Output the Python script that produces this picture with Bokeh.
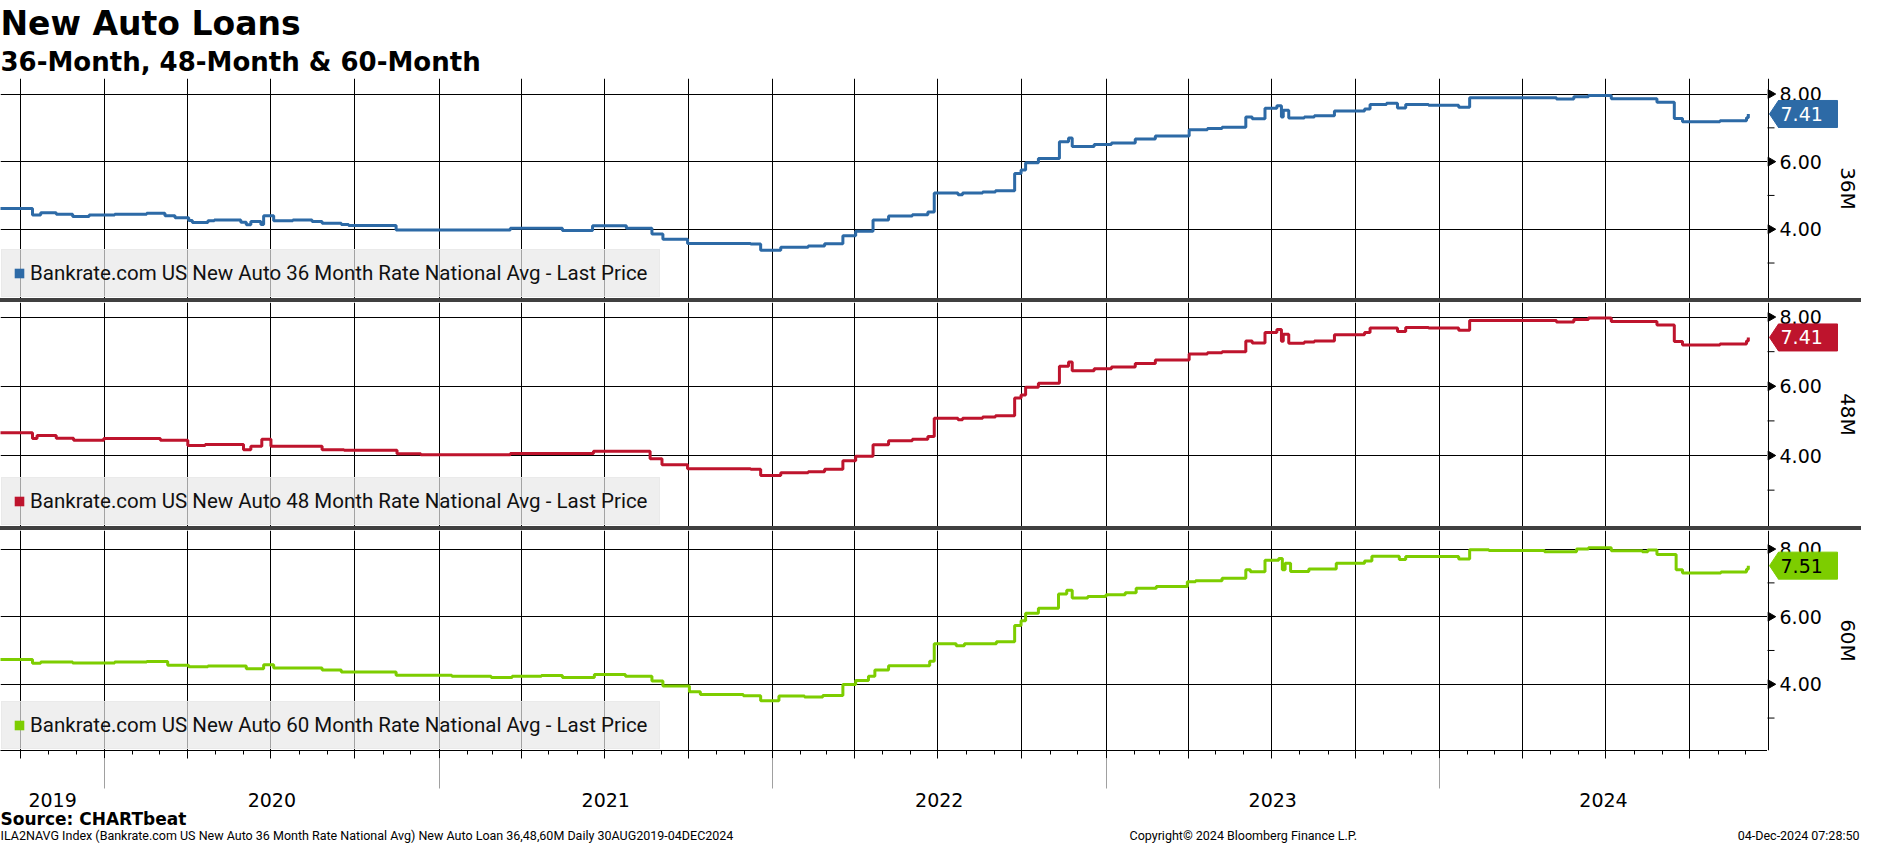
import math
import pandas as pd
from bokeh.plotting import figure
from bokeh.models import (FixedTicker, DatetimeAxis, DatetimeTickFormatter,
                          Legend, LegendItem, Label, Title, ColumnDataSource, Range1d)
from bokeh.layouts import column, row
from bokeh.embed import file_html
from bokeh.resources import INLINE
from bokeh.core.properties import value

# ---------------- data ----------------
dates_36 = ["2019-08-30", "2019-10-14", "2019-10-23", "2019-11-09", "2019-11-27", "2019-12-15",
            "2020-01-12", "2020-02-16", "2020-03-07", "2020-03-18", "2020-04-02", "2020-04-06",
            "2020-04-23", "2020-04-30", "2020-05-29", "2020-06-04", "2020-06-09", "2020-06-20",
            "2020-06-23", "2020-07-04", "2020-07-25", "2020-08-15", "2020-08-26", "2020-09-16",
            "2020-09-24", "2020-11-15", "2021-03-20", "2021-05-16", "2021-06-18", "2021-07-25",
            "2021-08-22", "2021-09-03", "2021-09-30", "2021-12-08", "2021-12-19", "2022-01-10",
            "2022-02-09", "2022-02-27", "2022-03-19", "2022-04-02", "2022-04-21", "2022-05-08",
            "2022-06-03", "2022-06-20", "2022-06-27", "2022-07-23", "2022-07-28", "2022-08-19",
            "2022-09-02", "2022-09-23", "2022-09-30", "2022-10-05", "2022-10-19", "2022-11-11",
            "2022-11-21", "2022-11-25", "2022-12-19", "2023-01-07", "2023-02-02", "2023-02-24",
            "2023-04-02", "2023-04-22", "2023-05-08", "2023-06-03", "2023-06-10", "2023-06-24",
            "2023-07-07", "2023-07-12", "2023-07-14", "2023-07-20", "2023-08-06", "2023-08-17",
            "2023-09-08", "2023-10-11", "2023-10-17", "2023-11-04", "2023-11-16", "2023-11-25",
            "2023-12-20", "2024-01-22", "2024-02-03", "2024-05-08", "2024-05-27", "2024-06-12",
            "2024-07-07", "2024-08-26", "2024-09-14", "2024-09-23", "2024-11-03", "2024-12-02",
            "2024-12-04"]
rates_36 = [4.61, 4.42, 4.49, 4.44, 4.38, 4.42,
            4.44, 4.47, 4.40, 4.34, 4.26, 4.20,
            4.25, 4.27, 4.21, 4.13, 4.23, 4.14,
            4.40, 4.25, 4.27, 4.23, 4.18, 4.14,
            4.11, 3.98, 4.03, 3.96, 4.10, 4.03,
            3.86, 3.70, 3.58, 3.56, 3.38, 3.47,
            3.50, 3.57, 3.81, 3.94, 4.27, 4.39,
            4.43, 4.51, 5.07, 5.02, 5.07, 5.10,
            5.14, 5.65, 5.75, 5.97, 6.09, 6.59,
            6.70, 6.45, 6.51, 6.55, 6.67, 6.76,
            6.94, 6.98, 7.02, 7.32, 7.27, 7.58,
            7.65, 7.32, 7.52, 7.29, 7.32, 7.36,
            7.50, 7.56, 7.69, 7.73, 7.59, 7.69,
            7.67, 7.61, 7.89, 7.85, 7.92, 7.96,
            7.86, 7.76, 7.28, 7.18, 7.21, 7.30,
            7.41]

dates_48 = ["2019-08-30", "2019-10-14", "2019-10-19", "2019-11-09", "2019-11-28", "2019-12-31",
            "2020-03-02", "2020-04-01", "2020-04-20", "2020-06-01", "2020-06-09", "2020-06-21",
            "2020-07-01", "2020-08-26", "2020-09-19", "2020-11-16", "2020-12-12", "2021-03-20",
            "2021-06-19", "2021-08-20", "2021-09-02", "2021-09-30", "2021-12-08", "2021-12-19",
            "2022-01-10", "2022-02-09", "2022-02-27", "2022-03-19", "2022-04-02", "2022-04-21",
            "2022-05-08", "2022-06-03", "2022-06-20", "2022-06-27", "2022-07-23", "2022-07-28",
            "2022-08-19", "2022-09-02", "2022-09-23", "2022-09-30", "2022-10-05", "2022-10-19",
            "2022-11-11", "2022-11-21", "2022-11-25", "2022-12-19", "2023-01-07", "2023-02-02",
            "2023-02-24", "2023-04-02", "2023-04-22", "2023-05-08", "2023-06-03", "2023-06-10",
            "2023-06-24", "2023-07-07", "2023-07-12", "2023-07-14", "2023-07-20", "2023-08-06",
            "2023-08-17", "2023-09-08", "2023-10-11", "2023-10-17", "2023-11-04", "2023-11-16",
            "2023-11-25", "2023-12-20", "2024-01-22", "2024-02-03", "2024-05-08", "2024-05-27",
            "2024-06-12", "2024-07-07", "2024-08-26", "2024-09-14", "2024-09-23", "2024-11-03",
            "2024-12-02", "2024-12-04"]
rates_48 = [4.66, 4.49, 4.58, 4.50, 4.44, 4.49,
            4.44, 4.29, 4.32, 4.17, 4.27, 4.47,
            4.27, 4.17, 4.15, 4.05, 4.02, 4.06,
            4.12, 3.91, 3.73, 3.62, 3.60, 3.42,
            3.50, 3.53, 3.60, 3.85, 3.98, 4.31,
            4.43, 4.47, 4.55, 5.08, 5.03, 5.08,
            5.11, 5.15, 5.66, 5.75, 5.97, 6.09,
            6.58, 6.70, 6.45, 6.51, 6.56, 6.66,
            6.76, 6.93, 6.97, 7.00, 7.31, 7.25,
            7.55, 7.64, 7.30, 7.50, 7.24, 7.28,
            7.31, 7.49, 7.55, 7.68, 7.68, 7.58,
            7.70, 7.68, 7.62, 7.90, 7.86, 7.93,
            7.97, 7.87, 7.77, 7.29, 7.19, 7.22,
            7.31, 7.41]

dates_60 = ["2019-08-30", "2019-10-14", "2019-10-23", "2019-11-27", "2020-01-12", "2020-02-16",
            "2020-03-10", "2020-04-02", "2020-04-23", "2020-06-04", "2020-06-23", "2020-07-04",
            "2020-08-26", "2020-09-16", "2020-11-15", "2021-01-15", "2021-02-27", "2021-03-22",
            "2021-04-23", "2021-05-16", "2021-06-20", "2021-07-24", "2021-08-22", "2021-09-03",
            "2021-10-02", "2021-10-14", "2021-11-30", "2021-12-19", "2022-01-08", "2022-02-05",
            "2022-02-25", "2022-03-19", "2022-04-02", "2022-04-16", "2022-04-23", "2022-05-08",
            "2022-06-22", "2022-06-27", "2022-07-21", "2022-07-30", "2022-09-03", "2022-09-23",
            "2022-09-30", "2022-10-05", "2022-10-19", "2022-11-10", "2022-11-19", "2022-11-25",
            "2022-12-12", "2023-01-01", "2023-01-22", "2023-02-03", "2023-02-25", "2023-03-31",
            "2023-04-09", "2023-05-08", "2023-06-03", "2023-06-08", "2023-06-24", "2023-07-09",
            "2023-07-13", "2023-07-16", "2023-07-22", "2023-08-11", "2023-09-10", "2023-10-11",
            "2023-10-19", "2023-11-18", "2023-11-25", "2024-01-22", "2024-02-03", "2024-02-24",
            "2024-04-25", "2024-05-30", "2024-06-12", "2024-07-07", "2024-08-10", "2024-08-16",
            "2024-08-26", "2024-09-16", "2024-09-23", "2024-11-04", "2024-12-02", "2024-12-04"]
rates_60 = [4.73, 4.62, 4.66, 4.63, 4.66, 4.67,
            4.56, 4.52, 4.54, 4.46, 4.58, 4.48,
            4.42, 4.36, 4.27, 4.24, 4.20, 4.24,
            4.26, 4.20, 4.29, 4.24, 4.10, 3.95,
            3.78, 3.70, 3.66, 3.51, 3.65, 3.62,
            3.67, 3.99, 4.11, 4.24, 4.42, 4.55,
            4.68, 5.20, 5.14, 5.20, 5.26, 5.74,
            5.88, 6.10, 6.25, 6.67, 6.78, 6.55,
            6.60, 6.65, 6.71, 6.84, 6.89, 7.03,
            7.06, 7.14, 7.39, 7.33, 7.67, 7.72,
            7.39, 7.58, 7.34, 7.41, 7.58, 7.65,
            7.79, 7.69, 7.78, 7.71, 7.98, 7.96,
            7.92, 8.00, 8.04, 7.95, 7.92, 7.97,
            7.84, 7.39, 7.29, 7.32, 7.40, 7.51]

series_names = ["Bankrate.com US New Auto 36 Month Rate National Avg - Last Price",
                "Bankrate.com US New Auto 48 Month Rate National Avg - Last Price",
                "Bankrate.com US New Auto 60 Month Rate National Avg - Last Price"]
panel_labels = ["36M", "48M", "60M"]
y_tick_values = [4, 6, 8]
y_minor_values = [3, 5, 7]
title_text = "New Auto Loans"
subtitle_text = "36-Month, 48-Month & 60-Month"
source_text = "Source: CHARTbeat"
footer_left = ("ILA2NAVG Index (Bankrate.com US New Auto 36 Month Rate National Avg) "
               "New Auto Loan 36,48,60M  Daily 30AUG2019-04DEC2024")
footer_mid = "Copyright\u00a9 2024 Bloomberg Finance L.P."
footer_right = "04-Dec-2024 07:28:50"

# ---------------- style / layout ----------------
COLORS = ["#2d6aa6", "#be142d", "#7dcd00"]
TAG_TEXT = ["white", "white", "black"]
Y_RANGES = [(1.95, 8.46), (1.95, 8.42), (2.04, 8.55)]
X_START = pd.Timestamp("2019-09-09")
X_END = pd.Timestamp("2024-12-25")
MAIN_W = 1767
SIDE_W = 94
TICK_FONT = "DejaVu Sans"


def ms(ts):
    return pd.Timestamp(ts).value / 1e6


quarters = [ms(t) for t in pd.date_range("2019-10-01", "2024-10-01", freq="QS")]
months = [ms(t) for t in pd.date_range("2019-09-01", "2024-12-01", freq="MS")]
jan1s = [ms(t) for t in pd.date_range("2020-01-01", "2024-01-01", freq="YS")]
edges = [ms(X_START)] + jan1s + [ms(X_END)]
mids = [(a + b) / 2 for a, b in zip(edges[:-1], edges[1:])]

x_range = Range1d(start=X_START, end=X_END)

all_dates = [dates_36, dates_48, dates_60]
all_rates = [rates_36, rates_48, rates_60]


def make_main(i, height, top, bottom, y_range, with_xaxis):
    p = figure(width=MAIN_W, height=height, x_range=x_range, y_range=y_range,
               x_axis_type="datetime", y_axis_location=None,
               x_axis_location="below" if with_xaxis else None,
               output_backend="svg", toolbar_location=None,
               min_border_left=0, min_border_right=0, min_border_top=top, min_border_bottom=bottom)
    p.outline_line_color = None
    p.background_fill_color = "white"
    p.border_fill_color = "white"

    p.xgrid.ticker = FixedTicker(ticks=quarters)
    p.xgrid.grid_line_color = "black"
    p.xgrid.grid_line_width = 1
    p.ygrid.ticker = FixedTicker(ticks=y_tick_values)
    p.ygrid.grid_line_color = "black"
    p.ygrid.grid_line_width = 1

    src = ColumnDataSource(dict(date=pd.to_datetime(all_dates[i]), rate=all_rates[i]))
    p.step(x="date", y="rate", source=src, mode="after", line_width=3, line_color=COLORS[i])
    swatch = p.varea(x="date", y1="rate", y2="rate", source=src, fill_color=COLORS[i])

    legend = Legend(items=[LegendItem(label=series_names[i], renderers=[swatch])],
                    location="bottom_left", margin=1, padding=11, spacing=0,
                    glyph_width=12, glyph_height=12, label_height=22, label_standoff=5,
                    label_text_font="Roboto", label_text_font_size="20.5px", label_text_color="#111111",
                    background_fill_color="#e8e8e8", background_fill_alpha=0.7,
                    border_line_color="#e8e8e8", border_line_alpha=0.7)
    p.add_layout(legend)
    return p


def make_side(i, height, top, bottom, y_range):
    s = figure(width=SIDE_W, height=height, x_range=Range1d(-1, SIDE_W - 1), y_range=y_range,
               x_axis_location=None, y_axis_location=None,
               output_backend="svg", toolbar_location=None,
               min_border_left=0, min_border_right=0, min_border_top=top, min_border_bottom=bottom)
    s.outline_line_color = None
    s.background_fill_color = "white"
    s.border_fill_color = "white"
    s.xgrid.visible = False
    s.ygrid.visible = False

    lo, hi = Y_RANGES[i]
    # value axis drawn from the tick lists
    s.segment(x0=[0], y0=[lo], x1=[0], y1=[hi], line_color="black", line_width=1)
    s.scatter(x=[2] * len(y_tick_values), y=y_tick_values, marker="triangle", angle=-math.pi / 2,
              size=9, fill_color="black", line_color="black")
    s.scatter(x=[0] * len(y_minor_values), y=y_minor_values, marker="dash", size=12,
              line_color="black", line_width=1)
    s.text(x=[0] * len(y_tick_values), y=y_tick_values, text=[f"{v:.2f}" for v in y_tick_values],
           x_offset=11, text_baseline="middle", text_align="left", text_color="black",
           text_font=value(TICK_FONT), text_font_size="19px")

    s.add_layout(Label(x=79, y=(lo + hi) / 2, text=panel_labels[i], angle=-math.pi / 2,
                       text_font=TICK_FONT, text_font_size="20px", text_color="black",
                       text_align="center", text_baseline="middle"))

    # last-value tag: pointed box at the last value
    last = all_rates[i][-1]
    s.scatter(x=[10], y=[last], marker="diamond", size=27, fill_color=COLORS[i], line_color=COLORS[i])
    s.rect(x=[39.5], y=[last], width=59, height=27, width_units="screen", height_units="screen",
           fill_color=COLORS[i], line_color=COLORS[i])
    s.add_layout(Label(x=12, y=last, text=f"{last:.2f}", text_color=TAG_TEXT[i],
                       text_font=TICK_FONT, text_font_size="19px", text_baseline="middle",
                       text_align="left"))
    return s


rows = []
specs = [(298, 73, 0, False), (224, 0, 0, False), (279, 0, 52, True)]
mains = []
for i, (h, top, bottom, with_x) in enumerate(specs):
    yr = Range1d(*Y_RANGES[i])
    m = make_main(i, h, top, bottom, yr, with_x)
    s = make_side(i, h, top, bottom, yr)
    mains.append(m)
    rows.append(row(m, s, spacing=0, styles={"background-color": "white"}))

m1, m2, m3 = mains
m1.add_layout(Title(text=subtitle_text, text_font="DejaVu Sans", text_color="black",
                    text_font_style="bold", text_font_size="26px", standoff=3, align="left"), "above")
m1.add_layout(Title(text=title_text, text_font="DejaVu Sans", text_font_style="bold", text_color="black",
                    text_font_size="33px", standoff=2, align="left"), "above")

# main bottom axis: quarterly + monthly ticks, labels suppressed
xa = m3.xaxis[0]
xa.ticker = FixedTicker(ticks=quarters, minor_ticks=months)
xa.axis_line_color = "black"
xa.major_tick_line_color = "black"
xa.minor_tick_line_color = "black"
xa.major_tick_in = 0
xa.major_tick_out = 8
xa.minor_tick_in = 0
xa.minor_tick_out = 4
xa.major_label_text_color = None
xa.major_label_text_font_size = "10px"
xa.major_label_standoff = 2

# year band: labels centred in each year, grey separators at year starts
fmt = "%Y"
year_axis = DatetimeAxis(ticker=FixedTicker(ticks=mids, minor_ticks=jan1s),
                         formatter=DatetimeTickFormatter(milliseconds=fmt, seconds=fmt, minsec=fmt,
                                                         minutes=fmt, hourmin=fmt, hours=fmt, days=fmt,
                                                         months=fmt, years=fmt),
                         axis_line_color=None, major_tick_line_color=None, major_tick_out=0,
                         major_tick_in=0, minor_tick_in=0, minor_tick_out=30,
                         minor_tick_line_color="#a0a0a0", major_label_standoff=4,
                         major_label_text_font=TICK_FONT, major_label_text_font_size="19px",
                         major_label_text_color="black")
m3.add_layout(year_axis, "below")

# footer strip
FOOT_W, FOOT_H = MAIN_W + SIDE_W, 34
foot = figure(width=FOOT_W, height=FOOT_H, x_range=Range1d(0, FOOT_W), y_range=Range1d(0, FOOT_H),
              x_axis_location=None, y_axis_location=None, output_backend="svg", toolbar_location=None,
              min_border_left=0, min_border_right=0, min_border_top=0, min_border_bottom=0)
foot.outline_line_color = None
foot.xgrid.visible = False
foot.ygrid.visible = False
foot.add_layout(Label(x=0, y=25, text=source_text, text_font="DejaVu Sans", text_font_style="bold",
                      text_font_size="17px", text_color="black", text_baseline="middle",
                      text_align="left"))
foot.add_layout(Label(x=0, y=8, text=footer_left, text_font="Roboto", text_font_size="12.5px",
                      text_color="black", text_baseline="middle", text_align="left"))
foot.add_layout(Label(x=1129, y=8, text=footer_mid, text_font="Roboto", text_font_size="12.5px",
                      text_color="black", text_baseline="middle", text_align="left"))
foot.add_layout(Label(x=FOOT_W - 2, y=8, text=footer_right, text_font="Roboto",
                      text_font_size="12.5px", text_color="black", text_baseline="middle",
                      text_align="right"))

panels = column(*rows, spacing=4, styles={"background-color": "#404040"})
layout = column(panels, foot, spacing=0)

open("out.html", "w").write(file_html(layout, INLINE))
